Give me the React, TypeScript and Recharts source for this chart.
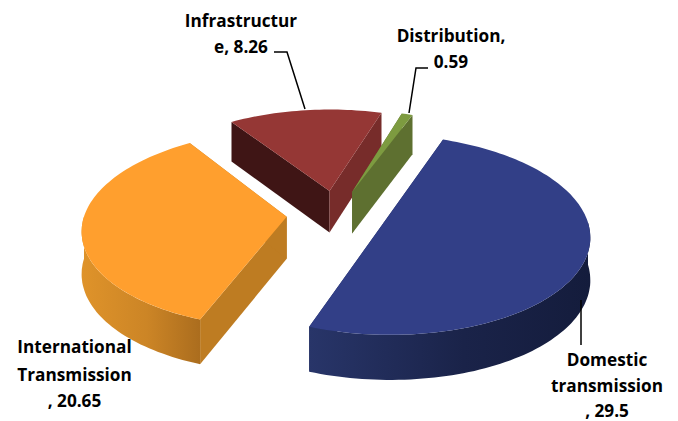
import React from 'react';
import { PieChart, Pie } from 'recharts';

const sliceNames = ['Domestic transmission', 'International Transmission', 'Infrastructure', 'Distribution'];
const sliceValues = [29.5, 20.65, 8.26, 0.59];

// wrapped the way the chart wraps them
const labelLines = [
    ['Domestic', 'transmission', ', 29.5'],
    ['International', 'Transmission', ', 20.65'],
    ['Infrastructur', 'e, 8.26'],
    ['Distribution,', '0.59'],
];

const data = sliceNames.map((name, i) => ({ name, value: sliceValues[i] }));

const SLICE_STYLES = [
    { top: '#323F87', startFace: '#222E63', endFace: '#222E63', wall: ['#283569', '#1A2349', '#141C3C'] },
    { top: '#FF9F2E', startFace: '#BE7C22', endFace: '#BE7C22', wall: ['#DF932A', '#CC8526', '#AB6D1E'] },
    { top: '#953735', startFace: '#3F1515', endFace: '#772C2A', wall: ['#772C2A', '#772C2A', '#772C2A'] },
    { top: '#7D9B40', startFace: '#5E7030', endFace: '#5E7030', wall: ['#5E7030', '#5E7030', '#5E7030'] },
];

// text anchor x, baselines, and the leader polyline for each label
const LABEL_LAYOUT = [
    { x: 607, baselines: [366, 392, 417], leader: '581,300 581,345' },
    { x: 74.5, baselines: [353, 381, 407], leader: '' },
    { x: 241, baselines: [27, 53], leader: '274,52 287,52 305,109' },
    { x: 451, baselines: [42, 68], leader: '428,68 416,68 409,113' },
];

const TILT = 0.478; // vertical squash of the pie plane
const PERSPECTIVE = 0.0006;
const EXPLODE = 50;
const THICKNESS = 42;

const RAD = Math.PI / 180;

type Pt = { x: number; y: number; s: number };

// plane coordinates (y pointing away from the viewer) to screen
const project = (cx: number, cy: number, px: number, py: number): Pt => {
    const s = 1 / (1 + PERSPECTIVE * py);
    return { x: cx + s * px, y: cy - s * TILT * py, s };
};

const drop = (p: Pt): Pt => ({ ...p, y: p.y + THICKNESS * Math.sqrt(p.s) });

const toPath = (pts: Pt[]) =>
    pts.map((p, i) => `${i ? 'L' : 'M'}${p.x.toFixed(1)},${p.y.toFixed(1)}`).join(' ') + ' Z';

const Slice3D = (props: any, idx?: number) => {
    const { cx, cy, outerRadius, startAngle, endAngle } = props;
    const index = props.index ?? idx ?? sliceNames.indexOf(props.name);
    const style = SLICE_STYLES[index];
    const mid = (startAngle + endAngle) / 2;
    const ax = EXPLODE * Math.cos(mid * RAD);
    const ay = EXPLODE * Math.sin(mid * RAD);
    const rim = (deg: number) =>
        project(cx, cy, ax + outerRadius * Math.cos(deg * RAD), ay + outerRadius * Math.sin(deg * RAD));

    const apex = project(cx, cy, ax, ay);
    const hi = Math.max(startAngle, endAngle);
    const lo = Math.min(startAngle, endAngle);
    const arc: Pt[] = [];
    for (let a = hi; a > lo; a -= 1.5) arc.push(rim(a));
    arc.push(rim(lo));

    // the outer wall only shows on the near half of the pie
    const wallPts: Pt[] = [];
    for (let k = -1; k >= -2; k--) {
        const from = Math.max(lo, 360 * k + 180);
        const to = Math.min(hi, 360 * k + 360);
        if (from < to) {
            for (let a = from; a < to; a += 1.5) wallPts.push(rim(a));
            wallPts.push(rim(to));
        }
    }
    const gradId = `wall-${index}`;
    const startEdge = rim(startAngle);
    const endEdge = rim(endAngle);

    return (
        <g>
            <defs>
                <linearGradient id={gradId} x1="0" y1="0" x2="1" y2="0">
                    <stop offset="0%" stopColor={style.wall[0]} />
                    <stop offset="55%" stopColor={style.wall[1]} />
                    <stop offset="100%" stopColor={style.wall[2]} />
                </linearGradient>
            </defs>
            <path d={toPath([apex, startEdge, drop(startEdge), drop(apex)])} fill={style.startFace} />
            <path d={toPath([apex, endEdge, drop(endEdge), drop(apex)])} fill={style.endFace} />
            {wallPts.length > 0 && (
                <path d={toPath([...wallPts, ...wallPts.map(drop).reverse()])} fill={`url(#${gradId})`} />
            )}
            <path d={toPath([apex, ...arc])} fill={style.top} />
        </g>
    );
};

const SliceLabel = ({ index }: any) => {
    const layout = LABEL_LAYOUT[index];
    return (
        <g>
            {layout.leader && <polyline points={layout.leader} fill="none" stroke="#000" strokeWidth={1.5} />}
            <text textAnchor="middle" fontFamily="'Open Sans'" fontWeight={700} fontSize={17.2} fill="#000">
                {labelLines[index].map((line, i) => (
                    <tspan key={line} x={layout.x} y={layout.baselines[i]}>{line}</tspan>
                ))}
            </text>
        </g>
    );
};

const App = () => {
    return (
        <div style={{ position: 'absolute', left: 0, top: 0, width: 678, height: 421 }}>
            <PieChart width={678} height={421} margin={{ top: 0, right: 0, bottom: 0, left: 0 }}>
                <Pie
                    data={data}
                    dataKey="value"
                    nameKey="name"
                    cx={336.5}
                    cy={214}
                    outerRadius={202}
                    startAngle={69.5}
                    endAngle={-290.5}
                    stroke="none"
                    shape={Slice3D}
                    label={SliceLabel}
                    labelLine={false}
                    isAnimationActive={false}
                />
            </PieChart>
        </div>
    );
};

export default App;
